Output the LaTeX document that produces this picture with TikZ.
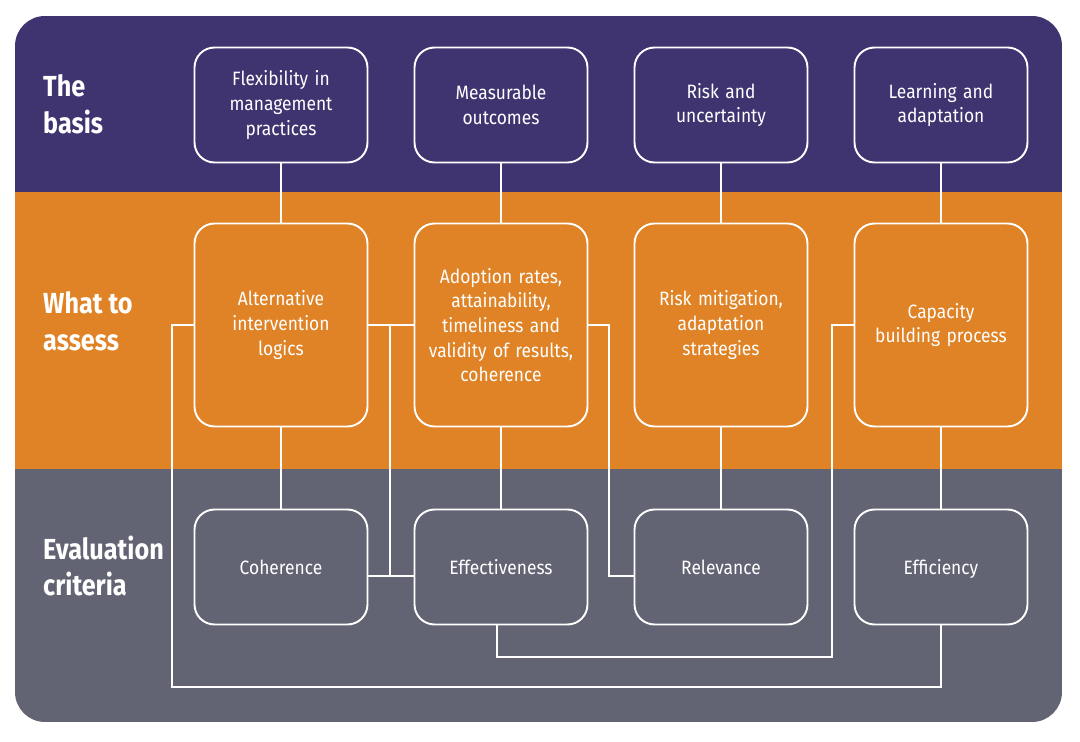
\documentclass[tikz,border=0pt]{standalone}
\usepackage{fontspec}
\setmainfont{Fira Sans}[FakeStretch=0.9]
\newfontfamily\headfont{Fira Sans}[FakeStretch=0.87]
\usetikzlibrary{positioning}

\definecolor{basisbg}{RGB}{63,52,112}
\definecolor{assessbg}{RGB}{224,131,38}
\definecolor{criteriabg}{RGB}{99,100,115}

\tikzset{
  box/.style={draw=white, line width=1.1pt, rounded corners=0.4cm,
    minimum width=3.46cm, text width=3.2cm, align=center,
    text=white, font=\fontsize{11}{14}\selectfont},
  shortbox/.style={box, minimum height=2.3cm},
  tallbox/.style={box, minimum height=4.06cm},
  critbox/.style={shortbox, text height=2.0ex, text depth=0.3ex},
  rowlabel/.style={anchor=west, align=left, text=white,
    font=\headfont\bfseries\fontsize{16.5}{21}\selectfont},
  link/.style={white, line width=1.1pt}
}

\begin{document}
\begin{tikzpicture}[x=0.02cm,y=-0.02cm]
\useasboundingbox (0,0) rectangle (1080,742);

% bands
\begin{scope}
\clip[rounded corners=0.6cm] (15,16) rectangle (1062,722);
\fill[basisbg] (15,16) rectangle (1062,192);
\fill[assessbg] (15,192) rectangle (1062,469);
\fill[criteriabg] (15,469) rectangle (1062,722);
\end{scope}

% row labels
\node[rowlabel] (lb1) at (37,104) {The\\basis};
\node[rowlabel] (lb2) at (37,321) {What to\\assess};
\node[rowlabel] (lb3) at (37,566) {Evaluation\\criteria};

% the basis
\node[shortbox] (t1) at (281,105) {Flexibility in\\management\\practices};
\node[shortbox] (t2) at (501,105) {Measurable\\outcomes};
\node[shortbox] (t3) at (721,105) {Risk and\\uncertainty};
\node[shortbox] (t4) at (941,105) {Learning and\\adaptation};

% what to assess
\node[tallbox] (m1) at (281,325) {Alternative\\intervention\\logics};
\node[tallbox] (m2) at (501,325) {Adoption rates,\\attainability,\\timeliness and\\validity of results,\\coherence};
\node[tallbox] (m3) at (721,325) {Risk mitigation,\\adaptation\\strategies};
\node[tallbox] (m4) at (941,325) {Capacity\\building process};

% criteria
\node[critbox] (b1) at (281,567) {Coherence};
\node[critbox] (b2) at (501,567) {Effectiveness};
\node[critbox] (b3) at (721,567) {Relevance};
\node[critbox] (b4) at (941,567) {Efficiency};

% column links
\foreach \i in {1,...,4}{
  \draw[link] (t\i) -- (m\i);
  \draw[link] (m\i) -- (b\i);
}

% cross links
\coordinate (loopL) at (172,687);
\draw[link] (m1.west) -| (loopL) -| (b4.south);

\coordinate (jA) at (390,325);
\coordinate (jB) at (390,576);
\draw[link] (m1.east) -- (m2.west);
\draw[link] (jA) -- (jB);
\draw[link] (b1.east |- jB) -- (b2.west |- jB);

\coordinate (jC) at (609,576);
\draw[link] (m2.east) -| (jC) -- (b3.west |- jC);

\coordinate (jD) at (497,657);
\coordinate (jE) at (832,657);
\draw[link] (b2.south -| jD) -- (jD) -- (jE) |- (m4.west);

\end{tikzpicture}
\end{document}
